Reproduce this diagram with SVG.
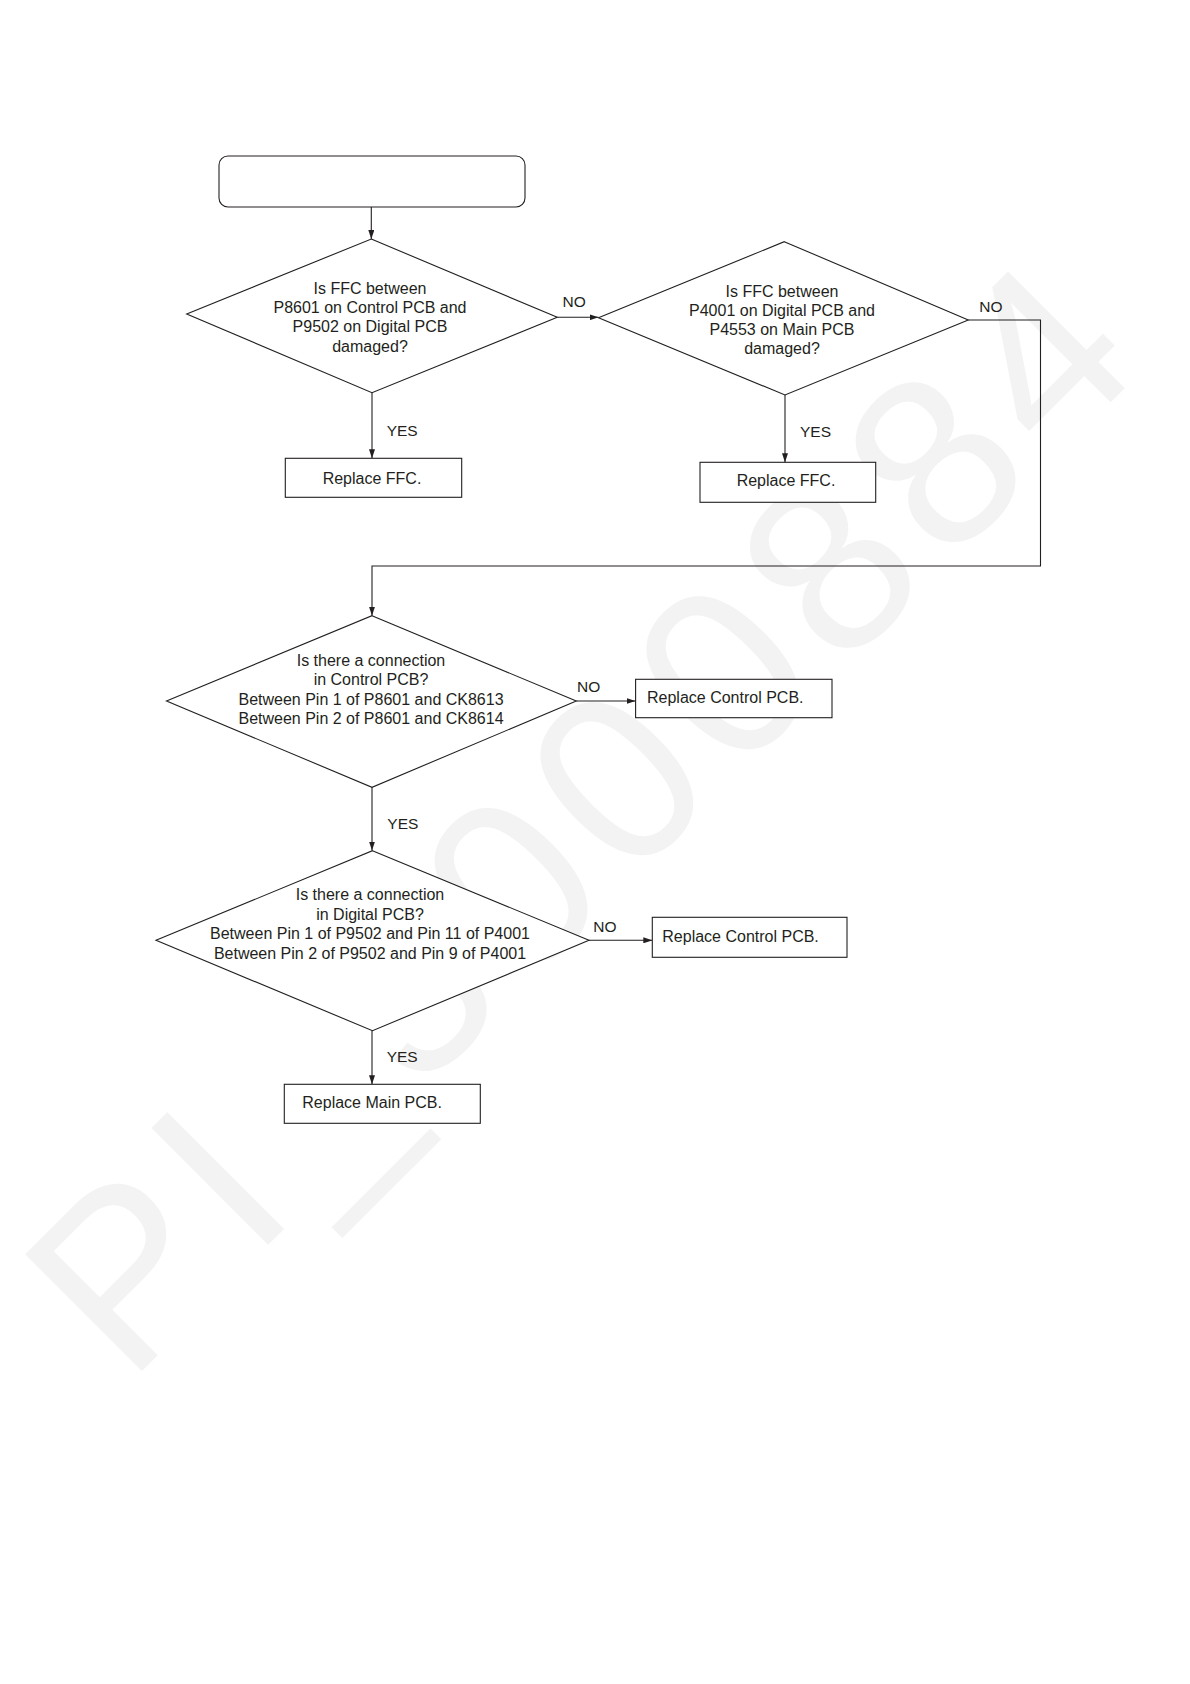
<svg xmlns="http://www.w3.org/2000/svg" width="1190" height="1684" viewBox="0 0 1190 1684">
<defs>
<style>
.s{fill:none;stroke:#231f20;stroke-width:1.1}
.n{fill:#fff;stroke:#231f20;stroke-width:1.1}
.t{font-family:"Liberation Sans",Arial,sans-serif;font-size:16px;fill:#231f20;text-anchor:middle}
.ts{font-family:"Liberation Sans",Arial,sans-serif;font-size:16px;fill:#231f20}
.l{font-family:"Liberation Sans",Arial,sans-serif;font-size:15.5px;fill:#231f20}
.wm{font-family:"Liberation Sans",Arial,sans-serif;font-size:240px;fill:#f3f3f3}
</style>
<marker id="arr" markerWidth="9" markerHeight="6" refX="9" refY="3" orient="auto" markerUnits="userSpaceOnUse">
<path d="M0,0 L9,3 L0,6 z" fill="#231f20"/>
</marker>
</defs>
<rect width="1190" height="1684" fill="#fff"/>
<text class="wm" transform="translate(128,1385) rotate(-45)" textLength="1440" lengthAdjust="spacing">PI_3000884</text>

<g id="connectors">
<line class="s" x1="371.3" y1="206.7" x2="371.3" y2="239" marker-end="url(#arr)"/>
<line class="s" x1="557.3" y1="317.3" x2="598.5" y2="317.3" marker-end="url(#arr)"/>
<line class="s" x1="372" y1="392.7" x2="372" y2="458.3" marker-end="url(#arr)"/>
<line class="s" x1="785" y1="395" x2="785" y2="462.3" marker-end="url(#arr)"/>
<polyline class="s" points="968.3,320 1040.5,320 1040.5,566 372,566 372,615.7" marker-end="url(#arr)"/>
<line class="s" x1="576.3" y1="701" x2="635.6" y2="701" marker-end="url(#arr)"/>
<line class="s" x1="372" y1="787.3" x2="372" y2="850.5" marker-end="url(#arr)"/>
<line class="s" x1="589" y1="940.3" x2="652.3" y2="940.3" marker-end="url(#arr)"/>
<line class="s" x1="372" y1="1030.7" x2="372" y2="1084.3" marker-end="url(#arr)"/>
<text class="l" x="562.5" y="307">NO</text>
<text class="l" x="979.3" y="311.7">NO</text>
<text class="l" x="386.7" y="436">YES</text>
<text class="l" x="800" y="437.3">YES</text>
<text class="l" x="577" y="691.5">NO</text>
<text class="l" x="387.3" y="829.3">YES</text>
<text class="l" x="593.3" y="932.3">NO</text>
<text class="l" x="386.7" y="1062">YES</text>
</g>

<g id="start">
<rect class="n" x="219" y="156" width="306" height="51" rx="9"/>
</g>

<g id="d1">
<polygon class="n" points="371.3,239 557.3,317.3 372,392.7 186.7,314"/>
<text class="t" x="370" y="294">Is FFC between</text>
<text class="t" x="370" y="313">P8601 on Control PCB and</text>
<text class="t" x="370" y="332.3">P9502 on Digital PCB</text>
<text class="t" x="370" y="352">damaged?</text>
</g>

<g id="r1">
<rect class="n" x="285.3" y="458.3" width="176.4" height="39"/>
<text class="t" x="372" y="484">Replace FFC.</text>
</g>

<g id="d2">
<polygon class="n" points="784.3,241.7 968.3,320 785,395 598.5,317.7"/>
<text class="t" x="782" y="296.7">Is FFC between</text>
<text class="t" x="782" y="315.7">P4001 on Digital PCB and</text>
<text class="t" x="782" y="335">P4553 on Main PCB</text>
<text class="t" x="782" y="354.3">damaged?</text>
</g>

<g id="r2">
<rect class="n" x="700" y="462.3" width="175.7" height="40"/>
<text class="t" x="786" y="485.7">Replace FFC.</text>
</g>

<g id="d3">
<polygon class="n" points="372,615.7 576.3,701 372,787.3 166.5,701"/>
<text class="t" x="371" y="665.5">Is there a connection</text>
<text class="t" x="371" y="685">in Control PCB?</text>
<text class="t" x="371" y="704.5">Between Pin 1 of P8601 and CK8613</text>
<text class="t" x="371" y="724">Between Pin 2 of P8601 and CK8614</text>
</g>

<g id="r3">
<rect class="n" x="635.6" y="679.3" width="196.4" height="38.4"/>
<text class="ts" x="647" y="703">Replace Control PCB.</text>
</g>

<g id="d4">
<polygon class="n" points="372.5,850.7 589,940.3 372.5,1030.7 156,940.3"/>
<text class="t" x="370" y="900">Is there a connection</text>
<text class="t" x="370" y="920">in Digital PCB?</text>
<text class="t" x="370" y="939.3">Between Pin 1 of P9502 and Pin 11 of P4001</text>
<text class="t" x="370" y="959">Between Pin 2 of P9502 and Pin 9 of P4001</text>
</g>

<g id="r4">
<rect class="n" x="652.3" y="917.3" width="194.7" height="40"/>
<text class="ts" x="662.3" y="942.3">Replace Control PCB.</text>
</g>

<g id="r5">
<rect class="n" x="284.3" y="1084.3" width="196" height="39"/>
<text class="ts" x="302.3" y="1108.3">Replace Main PCB.</text>
</g>
</svg>
